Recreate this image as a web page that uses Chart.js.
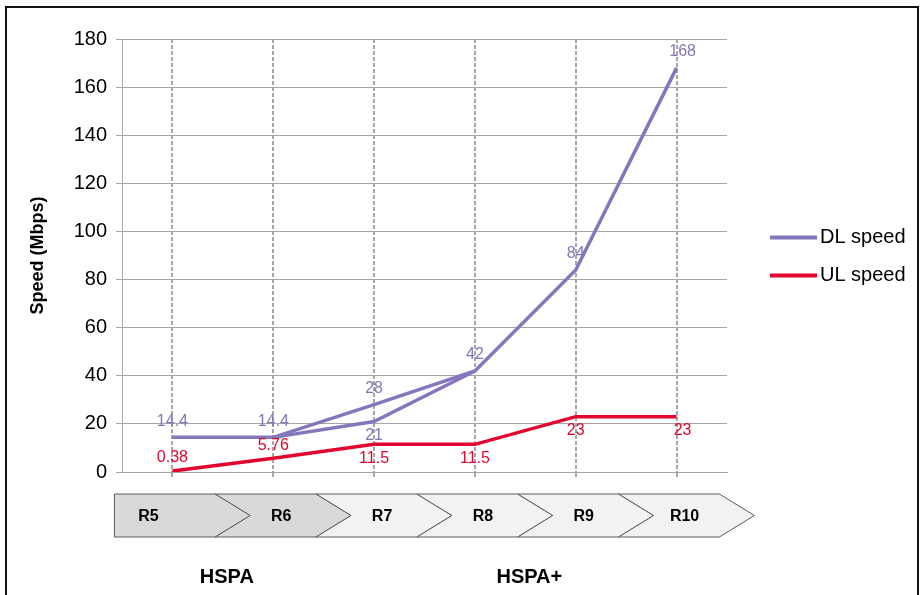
<!DOCTYPE html>
<html>
<head>
<meta charset="utf-8">
<script src="https://cdn.jsdelivr.net/npm/chart.js@4"></script>
<style>
  html, body { margin: 0; padding: 0; background: #ffffff; }
  #wrap { position: relative; width: 924px; height: 595px; }
  #frame { position: absolute; left: 5px; top: 6px; width: 914px; height: 600px; border: 2px solid #111; border-bottom: none; box-sizing: border-box; pointer-events: none; }
</style>
</head>
<body>
<div id="wrap">
  <canvas id="c" width="924" height="595"></canvas>
  <div id="frame"></div>
</div>
<script>
// Release categories and peak speeds (Mbps)
const releases = ['R5', 'R6', 'R7', 'R8', 'R9', 'R10'];
const dlSpeed = [14.4, 14.4, 28, 42, 84, 168];
const dlSpeedAlt = [null, 14.4, 21, 42, null, null];   // alternative R7 DL path
const ulSpeed = [0.38, 5.76, 11.5, 11.5, 23, 23];
const dlLabels = ['14.4', '14.4', '28', '42', '84', '168'];
const dlAltLabels = [null, null, '21', null, null, null];
const ulLabels = ['0.38', '5.76', '11.5', '11.5', '23', '23'];
const yTicks = [0, 20, 40, 60, 80, 100, 120, 140, 160, 180];
const techGroups = [
  { name: 'HSPA', from: 0, to: 1 },
  { name: 'HSPA+', from: 2, to: 5 }
];
const shadedReleases = ['R5', 'R6'];

const DL_COLOR = '#8676bb';
const DL_TEXT = '#8475b8';
const UL_COLOR = '#e2062f';
const GRID = '#a6a6a6';
const FONT = 'Arial, "Liberation Sans", sans-serif';

// Value labels: DL above its points, UL below (flipped up when it would hit the axis)
const valueLabels = {
  id: 'valueLabels',
  afterDatasetsDraw(chart) {
    const ctx = chart.ctx;
    const area = chart.chartArea;
    ctx.save();
    ctx.font = '16px ' + FONT;
    ctx.textAlign = 'center';
    ctx.textBaseline = 'middle';
    chart.data.datasets.forEach((ds, di) => {
      const meta = chart.getDatasetMeta(di);
      meta.data.forEach((pt, i) => {
        const txt = ds.valueText[i];
        if (!txt) return;
        let y = ds.labelSide === 'above' ? pt.y - 16 : pt.y + 14;
        if (y > area.bottom - 6) y = pt.y - 13;
        ctx.fillStyle = ds.labelColor;
        const dx = (i === ds.data.length - 1) ? 6 : 0;
        ctx.fillText(txt, pt.x + dx, y);
      });
    });
    ctx.restore();
  }
};

// Legend at the right of the plot
const sideLegend = {
  id: 'sideLegend',
  afterDraw(chart) {
    const ctx = chart.ctx;
    const items = chart.data.datasets.filter(d => d.inLegend);
    const mid = (chart.chartArea.top + chart.chartArea.bottom) / 2;
    const gap = 38;
    let y = mid - gap / 2 * (items.length - 1) + 1;
    ctx.save();
    ctx.font = '20px ' + FONT;
    ctx.textBaseline = 'middle';
    ctx.textAlign = 'left';
    items.forEach(d => {
      ctx.strokeStyle = d.borderColor;
      ctx.lineWidth = 4;
      ctx.beginPath();
      ctx.moveTo(770, y);
      ctx.lineTo(817, y);
      ctx.stroke();
      ctx.fillStyle = '#000';
      ctx.fillText(d.label, 820, y);
      y += gap;
    });
    ctx.restore();
  }
};

// Release chevrons and technology names under the x axis
const releaseBar = {
  id: 'releaseBar',
  afterDraw(chart) {
    const ctx = chart.ctx;
    const xs = chart.scales.x;
    const top = 494, bot = 537, midY = (top + bot) / 2;
    const step = xs.getPixelForValue(1) - xs.getPixelForValue(0);
    const depth = 35;
    ctx.save();
    releases.forEach((r, i) => {
      const left = xs.getPixelForValue(i) - 58;
      const right = left + step;
      ctx.beginPath();
      ctx.moveTo(left, top);
      ctx.lineTo(right, top);
      ctx.lineTo(right + depth, midY);
      ctx.lineTo(right, bot);
      ctx.lineTo(left, bot);
      if (i > 0) ctx.lineTo(left + depth, midY);
      ctx.closePath();
      ctx.fillStyle = shadedReleases.includes(r) ? '#d9d9d9' : '#f2f2f2';
      ctx.fill();
      ctx.strokeStyle = '#5a5a5a';
      ctx.lineWidth = 1;
      ctx.stroke();
    });
    ctx.font = 'bold 16px ' + FONT;
    ctx.fillStyle = '#000';
    ctx.textAlign = 'center';
    ctx.textBaseline = 'middle';
    releases.forEach((r, i) => {
      const left = xs.getPixelForValue(i) - 58;
      const cx = i === 0 ? left + 34 : left + 66;
      ctx.fillText(r, cx, midY + 1);
    });
    ctx.font = 'bold 20px ' + FONT;
    techGroups.forEach(g => {
      const cx = (xs.getPixelForValue(g.from) + xs.getPixelForValue(g.to)) / 2 + 4;
      ctx.fillText(g.name, cx, 577);
    });
    ctx.restore();
  }
};

new Chart(document.getElementById('c'), {
  type: 'line',
  data: {
    labels: releases,
    datasets: [
      {
        label: 'DL speed', data: dlSpeed, valueText: dlLabels, labelSide: 'above', labelColor: DL_TEXT, inLegend: true,
        borderColor: DL_COLOR, borderWidth: 3.5, pointRadius: 0, tension: 0, order: 2
      },
      {
        label: 'DL speed (alt)', data: dlSpeedAlt, valueText: dlAltLabels, labelSide: 'below', labelColor: DL_TEXT, inLegend: false,
        borderColor: DL_COLOR, borderWidth: 3.5, pointRadius: 0, tension: 0, order: 3
      },
      {
        label: 'UL speed', data: ulSpeed, valueText: ulLabels, labelSide: 'below', labelColor: UL_COLOR, inLegend: true,
        borderColor: UL_COLOR, borderWidth: 3.5, pointRadius: 0, tension: 0, order: 1
      }
    ]
  },
  options: {
    responsive: false,
    animation: false,
    devicePixelRatio: 1,
    layout: { padding: { top: 39, right: 197, bottom: 123, left: 0 } },
    plugins: { legend: { display: false }, tooltip: { enabled: false } },
    scales: {
      x: {
        offset: true,
        grid: {
          offset: false, color: GRID, lineWidth: 2,
          drawTicks: true, tickLength: 6, tickColor: GRID, tickBorderDash: [4, 2], tickWidth: 2
        },
        border: { display: true, color: GRID, width: 1, dash: [4, 2] },
        ticks: { display: false },
        afterFit(s) { s.height = 0; }
      },
      y: {
        min: 0, max: 180,
        afterBuildTicks(s) { s.ticks = yTicks.map(v => ({ value: v })); },
        grid: { color: GRID, lineWidth: 1, drawTicks: true, tickLength: 6, tickColor: GRID },
        border: { display: true, color: GRID, width: 1 },
        ticks: { font: { family: FONT, size: 20 }, color: '#000', padding: 9 },
        title: {
          display: true, text: 'Speed (Mbps)', color: '#000',
          font: { family: FONT, size: 18, weight: 'bold' },
          padding: { top: 27, bottom: 0 }
        },
        afterFit(s) { s.width = 122; }
      }
    }
  },
  plugins: [valueLabels, sideLegend, releaseBar]
});
</script>
</body>
</html>
